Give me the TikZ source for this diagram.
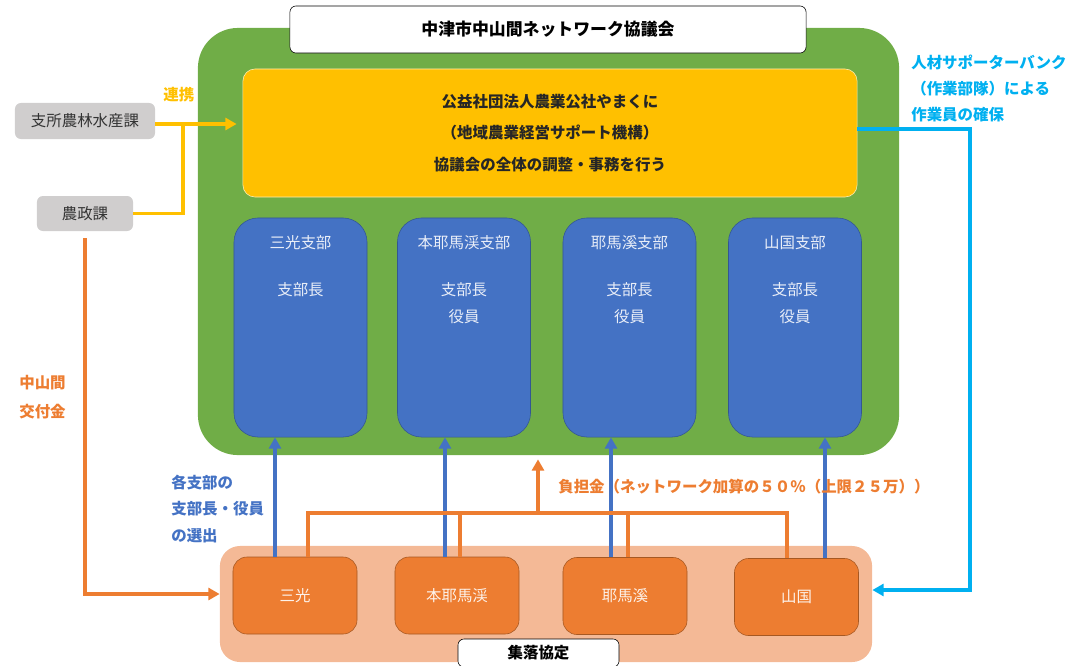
\documentclass[tikz,border=0pt]{standalone}
\usepackage{fontspec}
\setmainfont{Noto Sans CJK JP}
\usetikzlibrary{arrows.meta,positioning}
\definecolor{netgreen}{HTML}{70AD47}
\definecolor{netyellow}{HTML}{FFC000}
\definecolor{netblue}{HTML}{4472C4}
\definecolor{netorange}{HTML}{ED7D31}
\definecolor{netpeach}{HTML}{F4B996}
\definecolor{netgray}{HTML}{D0CECE}
\definecolor{netcyan}{HTML}{00B0F0}
\newcommand{\jfont}{\fontsize{11}{14}\selectfont}
\tikzset{
  branchbox/.style={draw=netblue!75!black, fill=netblue, rounded corners=0.6cm,
    minimum width=3.325cm, minimum height=5.475cm, inner sep=0pt},
  branchtext/.style={text=white!88!netblue, font=\jfont, align=center, inner sep=0pt},
  villagebox/.style={draw=netorange!70!black, fill=netorange, rounded corners=0.35cm,
    minimum width=3.1cm, minimum height=1.925cm, text=white!90!netorange, font=\jfont},
  officebox/.style={fill=netgray, rounded corners=0.15cm, minimum height=0.9cm,
    text=black!80, font=\jfont, inner sep=0pt},
  labelbox/.style={draw=black, fill=white, rounded corners=0.15cm, inner sep=0pt,
    font=\bfseries\jfont},
  note/.style={anchor=west, align=left, inner sep=0pt},
  link/.style={line width=2.2pt},
  linkarrow/.style={link, -{Triangle[length=8pt,width=8.5pt]}},
}
\begin{document}
\begin{tikzpicture}[x=0.025cm,y=-0.025cm]
  \useasboundingbox (0,0) rectangle (1070,665);
  % council
  \node[fill=netgreen, rounded corners=1cm, minimum width=17.525cm,
    minimum height=10.675cm, inner sep=0pt] (council) at (548.5,241.5) {};
  \node[labelbox, minimum width=12.9cm, minimum height=1.175cm,
    font=\bfseries\fontsize{12}{14}\selectfont] (title) at (548,29.5) {中津市中山間ネットワーク協議会};
  \node[draw=white!70!netyellow, fill=netyellow, rounded corners=0.3cm,
    minimum width=15.35cm, minimum height=3.2cm, align=center, text=black!85,
    font=\bfseries\fontsize{11}{22.3}\selectfont] (office) at (550,133)
    {公益社団法人農業公社やまくに\\（地域農業経営サポート機構）\\協議会の全体の調整・事務を行う};
  % branches
  \node[branchbox] (b1) at (300.5,327.5) {};
  \node[branchbox] (b2) at (464,327.5) {};
  \node[branchbox] (b3) at (629.5,327.5) {};
  \node[branchbox] (b4) at (795,327.5) {};
  \node[branchtext] at ([yshift=-0.625cm]b1.north) {三光支部};
  \node[branchtext] at ([yshift=-0.625cm]b2.north) {本耶馬渓支部};
  \node[branchtext] at ([yshift=-0.625cm]b3.north) {耶馬溪支部};
  \node[branchtext] at ([yshift=-0.625cm]b4.north) {山国支部};
  \node[branchtext] at ([yshift=-1.8cm]b1.north) {支部長};
  \foreach \b in {b2,b3,b4}
    \node[branchtext, font=\fontsize{11}{19}\selectfont] at ([yshift=-2.14cm]\b.north) {支部長\\役員};
  % villages
  \node[fill=netpeach, rounded corners=0.5cm, minimum width=16.3cm,
    minimum height=2.9cm, inner sep=0pt] (shuraku) at (546,604) {};
  \node[villagebox] (v1) at (295,595.5) {三光};
  \node[villagebox] (v2) at (457,595.5) {本耶馬渓};
  \node[villagebox] (v3) at (625,596) {耶馬溪};
  \node[villagebox] (v4) at (796.5,597) {山国};
  \node[labelbox, minimum width=4.025cm, minimum height=0.7cm] (kyotei) at (538.5,653) {集落協定};
  % city offices
  \node[officebox, minimum width=3.5cm] (sisho) at (85,121) {支所農林水産課};
  \node[officebox, minimum width=2.4cm, minimum height=0.875cm] (nosei) at (85,213.5) {農政課};
  % connectors
  \coordinate (yj) at (183,124);
  \draw[linkarrow, netyellow] (sisho.east |- yj) -- (yj) -- ([xshift=-0.15cm]office.west |- yj);
  \draw[link, netyellow] (nosei.east) -| (yj);
  \draw[linkarrow, netorange] ([yshift=-0.175cm]nosei.south) |- ([yshift=0.25cm]shuraku.west);
  \foreach \v/\b/\x in {v1/b1/275,v2/b2/445,v3/b3/611,v4/b4/825}
    \draw[linkarrow, netblue] (\v.north -| \x,0) -- (\b.south -| \x,0);
  \coordinate (pl) at (308,513);
  \coordinate (pr) at (787,513);
  \coordinate (pj) at (538,513);
  \draw[link, netorange] (v1.north -| pl) -- (pl) -- (pr) -- (v4.north -| pr);
  \draw[link, netorange] (v2.north -| 460,0) -- (460,513);
  \draw[link, netorange] (v3.north -| 628,0) -- (628,513);
  \draw[linkarrow, netorange] (pj) -- ([yshift=-0.1cm]pj |- council.south);
  \coordinate (cj) at (970,129);
  \draw[linkarrow, netcyan] (office.east |- cj) -- (cj) |- ([yshift=0.35cm]shuraku.east);
  % labels
  \node[note, text=netyellow, font=\bfseries\jfont] (renkei) at (163,95) {連携};
  \node[note, text=netorange, font=\bfseries\fontsize{11}{20.5}\selectfont] (kofu) at (19,397.5) {中山間\\交付金};
  \node[note, text=netblue, font=\bfseries\fontsize{11}{18.8}\selectfont] (senshutsu) at (171,509) {各支部の\\支部長・役員\\の選出};
  \node[note, text=netorange, font=\bfseries\jfont] (futan) at (558,487) {負担金（ネットワーク加算の５０％（上限２５万））};
  \node[note, text=netcyan, font=\bfseries\fontsize{11}{18.5}\selectfont] (bank) at (911,88) {人材サポーターバンク\\（作業部隊）による\\作業員の確保};
\end{tikzpicture}
\end{document}
